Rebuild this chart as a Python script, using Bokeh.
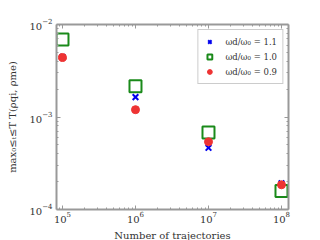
from bokeh.plotting import figure
from bokeh.models import LogAxis, Legend, LegendItem, FixedTicker, LogTickFormatter, CustomJSTickFormatter
from bokeh.embed import file_html
from bokeh.resources import INLINE

trajectories = [1e5, 1e6, 1e7, 1e8]
ratio_11 = [4.45e-3, 1.64e-3, 4.65e-4, 1.92e-4]
ratio_10 = [6.9e-3, 2.15e-3, 6.8e-4, 1.58e-4]
ratio_09 = [4.4e-3, 1.2e-3, 5.4e-4, 1.85e-4]
y_ticks = [1e-4, 1e-3, 1e-2]
x_ticks = [1e5, 1e6, 1e7, 1e8]

FONT = "DejaVu Serif"
GRAY = "#999999"

p = figure(frame_width=232, frame_height=185, x_axis_type="log", y_axis_type="log",
           x_range=(10**4.918, 10**8.096), y_range=(1e-4, 1e-2),
           output_backend="svg", toolbar_location=None,
           min_border_left=56, min_border_top=24, min_border_right=32, min_border_bottom=31)
p.grid.visible = False
p.outline_line_color = None

r10 = p.scatter(trajectories, ratio_10, marker="square", size=12, fill_color="white",
                fill_alpha=0, line_color="#1a8a1a", line_width=2)
r11 = p.scatter(trajectories, ratio_11, marker="x", size=8, line_color="#0000ee", line_width=2)
r09 = p.scatter(trajectories, ratio_09, marker="circle", size=8, fill_color="#ee3333",
                line_color="#ee3333")

y_minor = [m * t for t in y_ticks[:-1] for m in range(2, 10)]
x_minor = [m * t for t in [1e4] + x_ticks for m in range(2, 10)]

def style(ax, kind):
    ax.axis_line_color = GRAY
    ax.axis_line_width = 2
    ax.major_tick_line_color = GRAY
    ax.minor_tick_line_color = GRAY
    ax.major_tick_in = 4
    ax.major_tick_out = 0
    ax.minor_tick_in = 2
    ax.minor_tick_out = 0
    ax.major_label_text_font = FONT
    ax.major_label_text_font_size = "10px"
    ax.major_label_text_color = "#333333"
    ax.axis_label_text_font = FONT
    ax.axis_label_text_font_style = "normal"
    ax.axis_label_text_font_size = "10px"
    ax.axis_label_text_color = "#333333"
    if kind == "y":
        ax.ticker = FixedTicker(ticks=y_ticks, minor_ticks=y_minor)
    else:
        ax.ticker = FixedTicker(ticks=x_ticks, minor_ticks=x_minor)
    ax.formatter = LogTickFormatter()

for ax in p.xaxis:
    style(ax, "x")
for ax in p.yaxis:
    style(ax, "y")
p.xaxis.axis_label = "Number of trajectories"
p.xaxis.major_label_standoff = 2
p.xaxis.axis_label_standoff = 4
p.yaxis.axis_label = "max₀≤ₜ≤T T(ρqi, ρme)"
p.yaxis.major_label_standoff = 4
p.yaxis.axis_label_standoff = 8

top = LogAxis()
right = LogAxis()
style(top, "x"); style(right, "y")
for ax in (top, right):
    ax.formatter = CustomJSTickFormatter(code="return ''")
    ax.major_label_text_color = None
    ax.major_label_standoff = 0
p.add_layout(top, "above")
p.add_layout(right, "right")

legend = Legend(items=[
    LegendItem(label="ωd/ω₀ = 1.1", renderers=[r11]),
    LegendItem(label="ωd/ω₀ = 1.0", renderers=[r10]),
    LegendItem(label="ωd/ω₀ = 0.9", renderers=[r09]),
], location="top_right")
legend.label_text_font = FONT
legend.label_text_font_size = "8.5px"
legend.label_text_color = "#333333"
legend.border_line_color = GRAY
legend.border_line_width = 1.5
legend.glyph_width = 12
legend.glyph_height = 13
legend.label_height = 13
legend.spacing = 2
legend.padding = 5
legend.margin = 5
legend.label_standoff = 10
p.add_layout(legend)

open("out.html", "w").write(file_html(p, INLINE))
